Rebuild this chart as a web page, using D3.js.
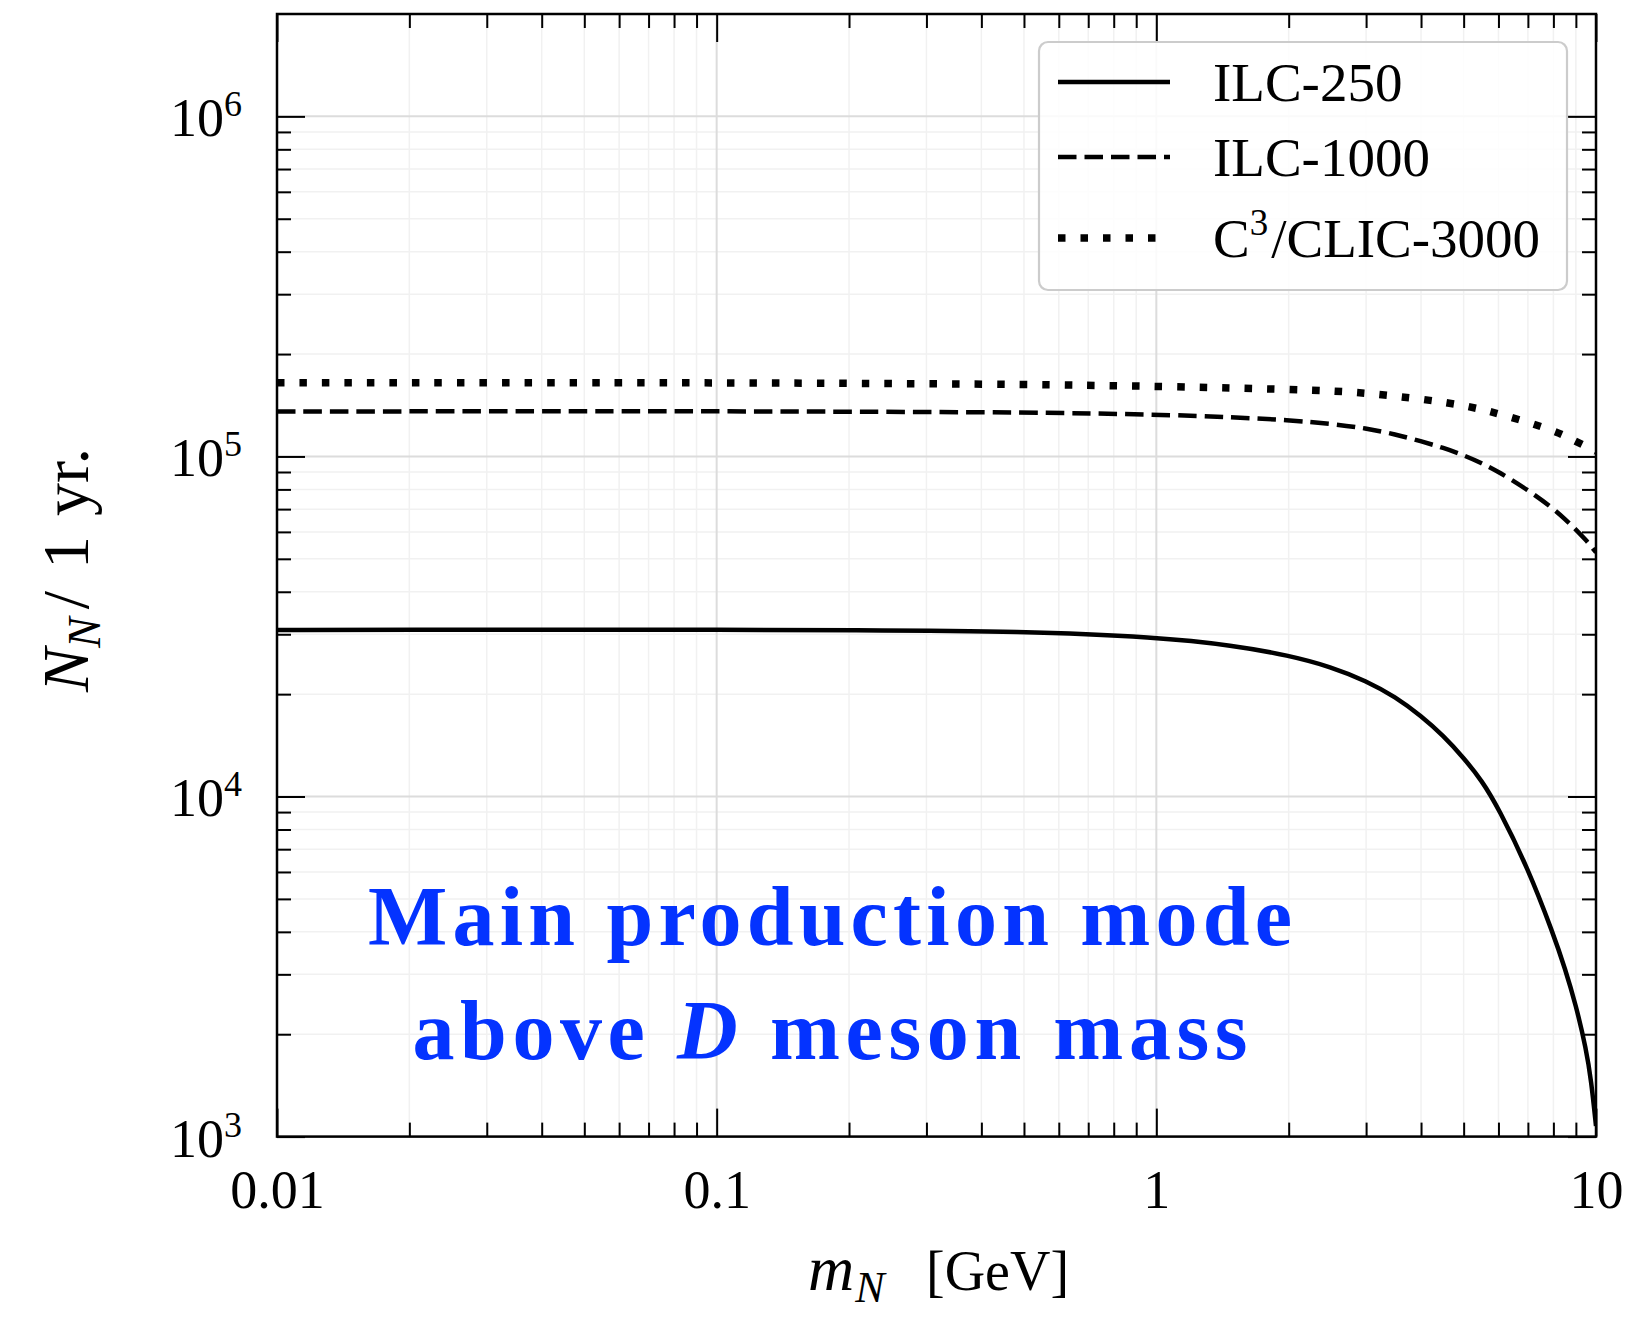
<!DOCTYPE html>
<html>
<head>
<meta charset="utf-8">
<script src="https://cdn.jsdelivr.net/npm/d3@7"></script>
<style>
  body { margin: 0; background: #fff; }
  svg { display: block; font-family: "Liberation Serif", "Times New Roman", serif; }
</style>
</head>
<body>
<svg id="chart" width="1625" height="1323"></svg>
<script>
// Heavy neutral lepton yield per year of running, vs. its mass
const massGeV  = [0.01, 0.02, 0.05, 0.1, 0.2, 0.5, 1, 1.5, 2, 2.5, 3, 3.5, 4, 4.5, 5, 5.5, 6, 7, 8, 8.5, 9, 9.5, 9.75, 10];
const ilc250   = [30900, 30920, 30950, 30950, 30830, 30630, 29410, 27820, 26000, 24060, 21880, 19630, 17260, 15080, 12990, 11145, 9245, 6157, 3938, 3124, 2438, 1806, 1464, 1075];
const ilc1000  = [135570, 135700, 135800, 135800, 135400, 134840, 132940, 130350, 127910, 124740, 121080, 116140, 110840, 105990, 100880, 95560, 90210, 79730, 70270, 65440, 60930, 56650, 54390, 52230];
const clic3000 = [164640, 164640, 164640, 164640, 164090, 162980, 160790, 158950, 157350, 155970, 153560, 150370, 147450, 144380, 141100, 137490, 133480, 126180, 118950, 115000, 110680, 107080, 105280, 103520];

const xTickValues = [0.01, 0.1, 1, 10];
const xTickLabels = ["0.01", "0.1", "1", "10"];
const yTickValues = [1e3, 1e4, 1e5, 1e6];
const yTickExponents = ["3", "4", "5", "6"];

const svg = d3.select("#chart");
const pL = 277, pR = 1596, pT = 14, pB = 1136.6;

const x = d3.scaleLog().domain([0.01, 10]).range([pL, pR]);
const y = d3.scaleLog().domain([1e3, 2e6]).range([pB, pT]);

// minor tick positions: 2..9 x 10^k
const xMinor = [];
for (let k = -2; k <= 0; k++) for (let m = 2; m <= 9; m++) xMinor.push(m * Math.pow(10, k));
const yMinor = [];
for (let k = 3; k <= 5; k++) for (let m = 2; m <= 9; m++) yMinor.push(m * Math.pow(10, k));

// grid
const grid = svg.append("g");
grid.selectAll(".gxm").data(xMinor).join("line")
  .attr("x1", d => x(d)).attr("x2", d => x(d)).attr("y1", pT).attr("y2", pB)
  .attr("stroke", "#f1f1f1").attr("stroke-width", 1.5);
grid.selectAll(".gym").data(yMinor).join("line")
  .attr("y1", d => y(d)).attr("y2", d => y(d)).attr("x1", pL).attr("x2", pR)
  .attr("stroke", "#f1f1f1").attr("stroke-width", 1.5);
grid.selectAll(".gxM").data(xTickValues).join("line")
  .attr("x1", d => x(d)).attr("x2", d => x(d)).attr("y1", pT).attr("y2", pB)
  .attr("stroke", "#dcdcdc").attr("stroke-width", 2);
grid.selectAll(".gyM").data(yTickValues).join("line")
  .attr("y1", d => y(d)).attr("y2", d => y(d)).attr("x1", pL).attr("x2", pR)
  .attr("stroke", "#dcdcdc").attr("stroke-width", 2);

// curves
svg.append("defs").append("clipPath").attr("id", "plotClip")
  .append("rect").attr("x", pL).attr("y", pT).attr("width", pR - pL).attr("height", pB - pT);

const series = [
  { name: "ILC-250", values: ilc250, width: 4.5, dash: null },
  { name: "ILC-1000", values: ilc1000, width: 4.5, dash: "18.5 8" },
  { name: "C3/CLIC-3000", values: clic3000, width: 7.5, dash: "7.5 15" }
];

const line = d3.line().x(d => x(d[0])).y(d => y(d[1])).curve(d3.curveBasis);
const curves = svg.append("g").attr("clip-path", "url(#plotClip)");
series.forEach(s => {
  curves.append("path")
    .datum(massGeV.map((m, i) => [m, s.values[i]]))
    .attr("d", line)
    .attr("fill", "none")
    .attr("stroke", "#000")
    .attr("stroke-width", s.width)
    .attr("stroke-dasharray", s.dash)
    .attr("stroke-linejoin", "round");
});

// axes: inward ticks on all four sides
function styleAxis(g) {
  g.select(".domain").remove();
  g.selectAll(".tick line").attr("stroke", "#000").attr("stroke-width", 2);
  g.attr("font-family", null).attr("font-size", null);
}
const majorLen = 28, minorLen = 14;

const gBottom = svg.append("g").attr("transform", `translate(0,${pB})`)
  .call(d3.axisBottom(x).tickValues(xTickValues).tickFormat((d, i) => xTickLabels[i])
    .tickSize(-majorLen).tickSizeOuter(0).tickPadding(33));
styleAxis(gBottom);
gBottom.selectAll(".tick text").attr("font-size", 54).attr("fill", "#000");

svg.append("g").attr("transform", `translate(0,${pB})`)
  .call(d3.axisBottom(x).tickValues(xMinor).tickFormat("").tickSize(-minorLen).tickSizeOuter(0))
  .call(styleAxis);
svg.append("g").attr("transform", `translate(0,${pT})`)
  .call(d3.axisTop(x).tickValues(xTickValues).tickFormat("").tickSize(-majorLen).tickSizeOuter(0))
  .call(styleAxis);
svg.append("g").attr("transform", `translate(0,${pT})`)
  .call(d3.axisTop(x).tickValues(xMinor).tickFormat("").tickSize(-minorLen).tickSizeOuter(0))
  .call(styleAxis);

const gLeft = svg.append("g").attr("transform", `translate(${pL},0)`)
  .call(d3.axisLeft(y).tickValues(yTickValues).tickFormat("").tickSize(-majorLen).tickSizeOuter(0).tickPadding(35));
styleAxis(gLeft);
gLeft.selectAll(".tick text").each(function (d, i) {
  const t = d3.select(this).attr("font-size", 54).attr("fill", "#000").attr("dy", "0.36em");
  t.append("tspan").text("10");
  t.append("tspan").attr("font-size", 36).attr("dy", -20).text(yTickExponents[i]);
});
svg.append("g").attr("transform", `translate(${pL},0)`)
  .call(d3.axisLeft(y).tickValues(yMinor).tickFormat("").tickSize(-minorLen).tickSizeOuter(0))
  .call(styleAxis);
svg.append("g").attr("transform", `translate(${pR},0)`)
  .call(d3.axisRight(y).tickValues(yTickValues).tickFormat("").tickSize(-majorLen).tickSizeOuter(0))
  .call(styleAxis);
svg.append("g").attr("transform", `translate(${pR},0)`)
  .call(d3.axisRight(y).tickValues(yMinor).tickFormat("").tickSize(-minorLen).tickSizeOuter(0))
  .call(styleAxis);

// frame
svg.append("rect").attr("x", pL).attr("y", pT).attr("width", pR - pL).attr("height", pB - pT)
  .attr("fill", "none").attr("stroke", "#000").attr("stroke-width", 2.5);

// axis titles
const xt = svg.append("text").attr("y", 1290).attr("font-size", 56).attr("fill", "#000");
xt.append("tspan").attr("x", 808).attr("font-style", "italic").attr("font-size", 64).text("m");
xt.append("tspan").attr("font-style", "italic").attr("font-size", 44).attr("dy", 12).attr("dx", 1).text("N");
xt.append("tspan").attr("x", 926).attr("dy", -12).text("[GeV]");

const yt = svg.append("text").attr("transform", "translate(88,570) rotate(-90)")
  .attr("text-anchor", "middle").attr("font-size", 66).attr("fill", "#000");
yt.append("tspan").attr("font-style", "italic").text("N");
yt.append("tspan").attr("font-style", "italic").attr("font-size", 46).attr("dy", 12).text("N");
yt.append("tspan").attr("dy", -12).attr("dx", 8).text("/");
yt.append("tspan").attr("dx", 22).text("1");
yt.append("tspan").attr("dx", 20).text("yr.");

// legend
const lg = svg.append("g");
lg.append("rect").attr("x", 1039).attr("y", 42).attr("width", 528).attr("height", 248).attr("rx", 9)
  .attr("fill", "#fff").attr("fill-opacity", 0.85).attr("stroke", "#cccccc").attr("stroke-width", 2.2);
const rowsY = [82, 157, 238];
series.forEach((s, i) => {
  lg.append("line").attr("x1", 1058).attr("x2", 1170).attr("y1", rowsY[i]).attr("y2", rowsY[i])
    .attr("stroke", "#000").attr("stroke-width", s.width).attr("stroke-dasharray", s.dash);
  const t = lg.append("text").attr("x", 1213).attr("y", rowsY[i] + 19).attr("font-size", 55).attr("fill", "#000");
  if (i === 2) {
    t.append("tspan").text("C");
    t.append("tspan").attr("font-size", 37).attr("dy", -22).text("3");
    t.append("tspan").attr("dy", 22).attr("dx", 3).text("/CLIC-3000");
  } else {
    t.text(s.name);
  }
});

// annotation
const blue = "#0433ff";
svg.append("text").attr("x", 830).attr("y", 945).attr("text-anchor", "middle")
  .attr("font-size", 84).attr("font-weight", "bold").attr("fill", blue)
  .attr("textLength", 924).attr("lengthAdjust", "spacing")
  .text("Main production mode");
const a2 = svg.append("text").attr("x", 830).attr("y", 1059).attr("text-anchor", "middle")
  .attr("font-size", 84).attr("font-weight", "bold").attr("fill", blue)
  .attr("textLength", 835).attr("lengthAdjust", "spacing");
a2.append("tspan").text("above ");
a2.append("tspan").attr("font-style", "italic").text("D");
a2.append("tspan").text(" meson mass");
</script>
</body>
</html>
